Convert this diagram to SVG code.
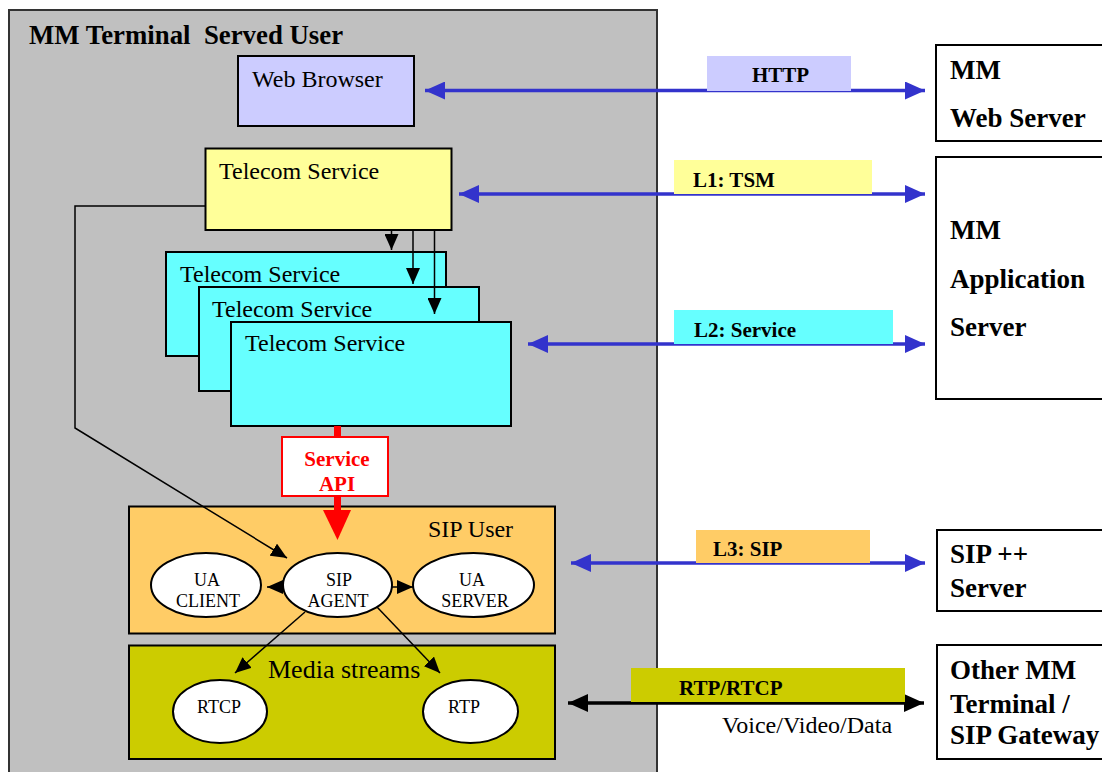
<svg xmlns="http://www.w3.org/2000/svg" width="1102" height="772" viewBox="0 0 1102 772">
<style>
.t{font-family:"Liberation Serif","Times New Roman",serif;fill:#000}
.b{font-weight:bold}
.box{stroke:#000;stroke-width:2}
.ell{fill:#fff;stroke:#000;stroke-width:2}
.ln{fill:none;stroke:#000;stroke-width:1.5}
.blue{fill:none;stroke:#3333cc;stroke-width:3.5}
</style>
<defs>
<marker id="ah" markerUnits="userSpaceOnUse" markerWidth="18" markerHeight="14" refX="16" refY="7" orient="auto-start-reverse"><path d="M0,0 L16,7 L0,14 Z" fill="#000"/></marker>
<marker id="bh" markerUnits="userSpaceOnUse" markerWidth="22" markerHeight="18" refX="20" refY="9" orient="auto-start-reverse"><path d="M0,0 L20,9 L0,18 Z" fill="#3333cc"/></marker>
<marker id="kh" markerUnits="userSpaceOnUse" markerWidth="22" markerHeight="18" refX="20" refY="9" orient="auto-start-reverse"><path d="M0,0 L20,9 L0,18 Z" fill="#000"/></marker>
</defs>
<g id="terminal">
<rect x="9" y="10" width="648" height="780" fill="#c0c0c0" stroke="#333" stroke-width="2"/>
<text class="t b" x="29" y="44" font-size="26.8">MM Terminal&#160; Served User</text>
</g>
<g id="web-browser">
<rect class="box" x="238" y="56" width="176" height="70" fill="#ccccff"/>
<text class="t" x="252" y="87" font-size="24">Web Browser</text>
</g>
<g id="tsm">
<rect class="box" x="205.5" y="148.5" width="246" height="81.5" fill="#ffff99"/>
<text class="t" x="219" y="179" font-size="24">Telecom Service</text>
</g>
<g id="ts1">
<rect class="box" x="166" y="252" width="280" height="104" fill="#66ffff"/>
<text class="t" x="180" y="282" font-size="24">Telecom Service</text>
</g>
<g id="ts2">
<rect class="box" x="199" y="287" width="280" height="104" fill="#66ffff"/>
<text class="t" x="212" y="317" font-size="24">Telecom Service</text>
</g>
<g id="ts3">
<rect class="box" x="231" y="322" width="280" height="104" fill="#66ffff"/>
<text class="t" x="245" y="351" font-size="24">Telecom Service</text>
</g>
<g id="service-api">
<rect x="282" y="437" width="106" height="59" fill="#fff" stroke="#ff0000" stroke-width="2"/>
<text class="t b" x="337" y="466" font-size="21" text-anchor="middle" style="fill:#ff0000">Service</text>
<text class="t b" x="337" y="491" font-size="21" text-anchor="middle" style="fill:#ff0000">API</text>
</g>
<g id="sip-user">
<rect class="box" x="129" y="506.5" width="426" height="127" fill="#ffcc66"/>
<text class="t" x="428" y="537" font-size="24">SIP User</text>
</g>
<g id="ua-client">
<ellipse class="ell" cx="206" cy="585" rx="55" ry="32"/>
<text class="t" x="207" y="586" font-size="18" text-anchor="middle">UA</text>
<text class="t" x="208" y="607" font-size="18" text-anchor="middle">CLIENT</text>
</g>
<g id="sip-agent">
<ellipse class="ell" cx="337.5" cy="585" rx="54.5" ry="32"/>
<text class="t" x="339" y="586" font-size="18" text-anchor="middle">SIP</text>
<text class="t" x="338" y="607" font-size="18" text-anchor="middle">AGENT</text>
</g>
<g id="ua-server">
<ellipse class="ell" cx="473.5" cy="585" rx="60.5" ry="32"/>
<text class="t" x="472" y="586" font-size="18" text-anchor="middle">UA</text>
<text class="t" x="475" y="607" font-size="18" text-anchor="middle">SERVER</text>
</g>
<g id="media-streams">
<rect class="box" x="129" y="645.5" width="426" height="113.5" fill="#cccc00"/>
<text class="t" x="268" y="678" font-size="26">Media streams</text>
</g>
<g id="rtcp">
<ellipse class="ell" cx="220" cy="711.5" rx="47" ry="31.5"/>
<text class="t" x="219" y="713" font-size="18" text-anchor="middle">RTCP</text>
</g>
<g id="rtp">
<ellipse class="ell" cx="470.5" cy="711.5" rx="47.5" ry="31.5"/>
<text class="t" x="464" y="713" font-size="18" text-anchor="middle">RTP</text>
</g>
<g id="web-server">
<rect class="box" x="936" y="45" width="180" height="96" fill="#fff"/>
<text class="t b" x="950" y="79" font-size="27">MM</text>
<text class="t b" x="950" y="127" font-size="27">Web Server</text>
</g>
<g id="app-server">
<rect class="box" x="936" y="157" width="180" height="242" fill="#fff"/>
<text class="t b" x="950" y="239" font-size="27">MM</text>
<text class="t b" x="950" y="288" font-size="27">Application</text>
<text class="t b" x="950" y="336" font-size="27">Server</text>
</g>
<g id="sip-server">
<rect class="box" x="937" y="530" width="180" height="81" fill="#fff"/>
<text class="t b" x="950" y="563" font-size="27">SIP ++</text>
<text class="t b" x="950" y="597" font-size="27">Server</text>
</g>
<g id="other-terminal">
<rect class="box" x="937" y="645" width="180" height="114" fill="#fff"/>
<text class="t b" x="950" y="679" font-size="27">Other MM</text>
<text class="t b" x="950" y="713" font-size="27">Terminal /</text>
<text class="t b" x="950" y="744" font-size="27">SIP Gateway</text>
</g>
<g id="connectors">
<line class="ln" x1="391.5" y1="230" x2="391.5" y2="250" marker-end="url(#ah)"/>
<line class="ln" x1="413" y1="230" x2="413" y2="284" marker-end="url(#ah)"/>
<line class="ln" x1="434.5" y1="230" x2="434.5" y2="314" marker-end="url(#ah)"/>
<polyline class="ln" points="205.5,206 75,206 75,428 287,558" marker-end="url(#ah)"/>
<line class="ln" x1="283" y1="587" x2="267" y2="587" marker-end="url(#ah)"/>
<line class="ln" x1="392" y1="587" x2="413" y2="587" marker-end="url(#ah)"/>
<line class="ln" x1="305" y1="612" x2="235" y2="673" marker-end="url(#ah)"/>
<line class="ln" x1="377" y1="607" x2="440" y2="673" marker-end="url(#ah)"/>
<line x1="337.5" y1="426" x2="337.5" y2="437" stroke="#ff0000" stroke-width="7"/>
<line x1="337.5" y1="496" x2="337.5" y2="512" stroke="#ff0000" stroke-width="7"/>
<path d="M323,510 L351,510 L337.5,540 Z" fill="#ff0000"/>
<line class="blue" x1="425" y1="90.5" x2="925" y2="90.5" marker-start="url(#bh)" marker-end="url(#bh)"/>
<line class="blue" x1="459" y1="194" x2="925" y2="194" marker-start="url(#bh)" marker-end="url(#bh)"/>
<line class="blue" x1="528" y1="344" x2="925" y2="344" marker-start="url(#bh)" marker-end="url(#bh)"/>
<line class="blue" x1="571" y1="563" x2="925" y2="563" marker-start="url(#bh)" marker-end="url(#bh)"/>
<line x1="568" y1="703" x2="924" y2="703" stroke="#000" stroke-width="3.5" marker-start="url(#kh)" marker-end="url(#kh)"/>
</g>
<g id="labels">
<rect x="707" y="56" width="144" height="35" fill="#ccccff"/>
<text class="t b" x="752" y="82" font-size="21">HTTP</text>
<rect x="674" y="160" width="198" height="34" fill="#ffff99"/>
<text class="t b" x="693" y="187" font-size="21">L1: TSM</text>
<rect x="674" y="310" width="219" height="34" fill="#66ffff"/>
<text class="t b" x="694" y="337" font-size="21">L2: Service</text>
<rect x="696" y="530" width="174" height="33" fill="#ffcc66"/>
<text class="t b" x="713" y="556" font-size="21">L3: SIP</text>
<rect x="631" y="668" width="274" height="34" fill="#cccc00"/>
<text class="t b" x="679" y="695" font-size="21">RTP/RTCP</text>
<text class="t" x="722" y="733" font-size="24">Voice/Video/Data</text>
</g>
</svg>
